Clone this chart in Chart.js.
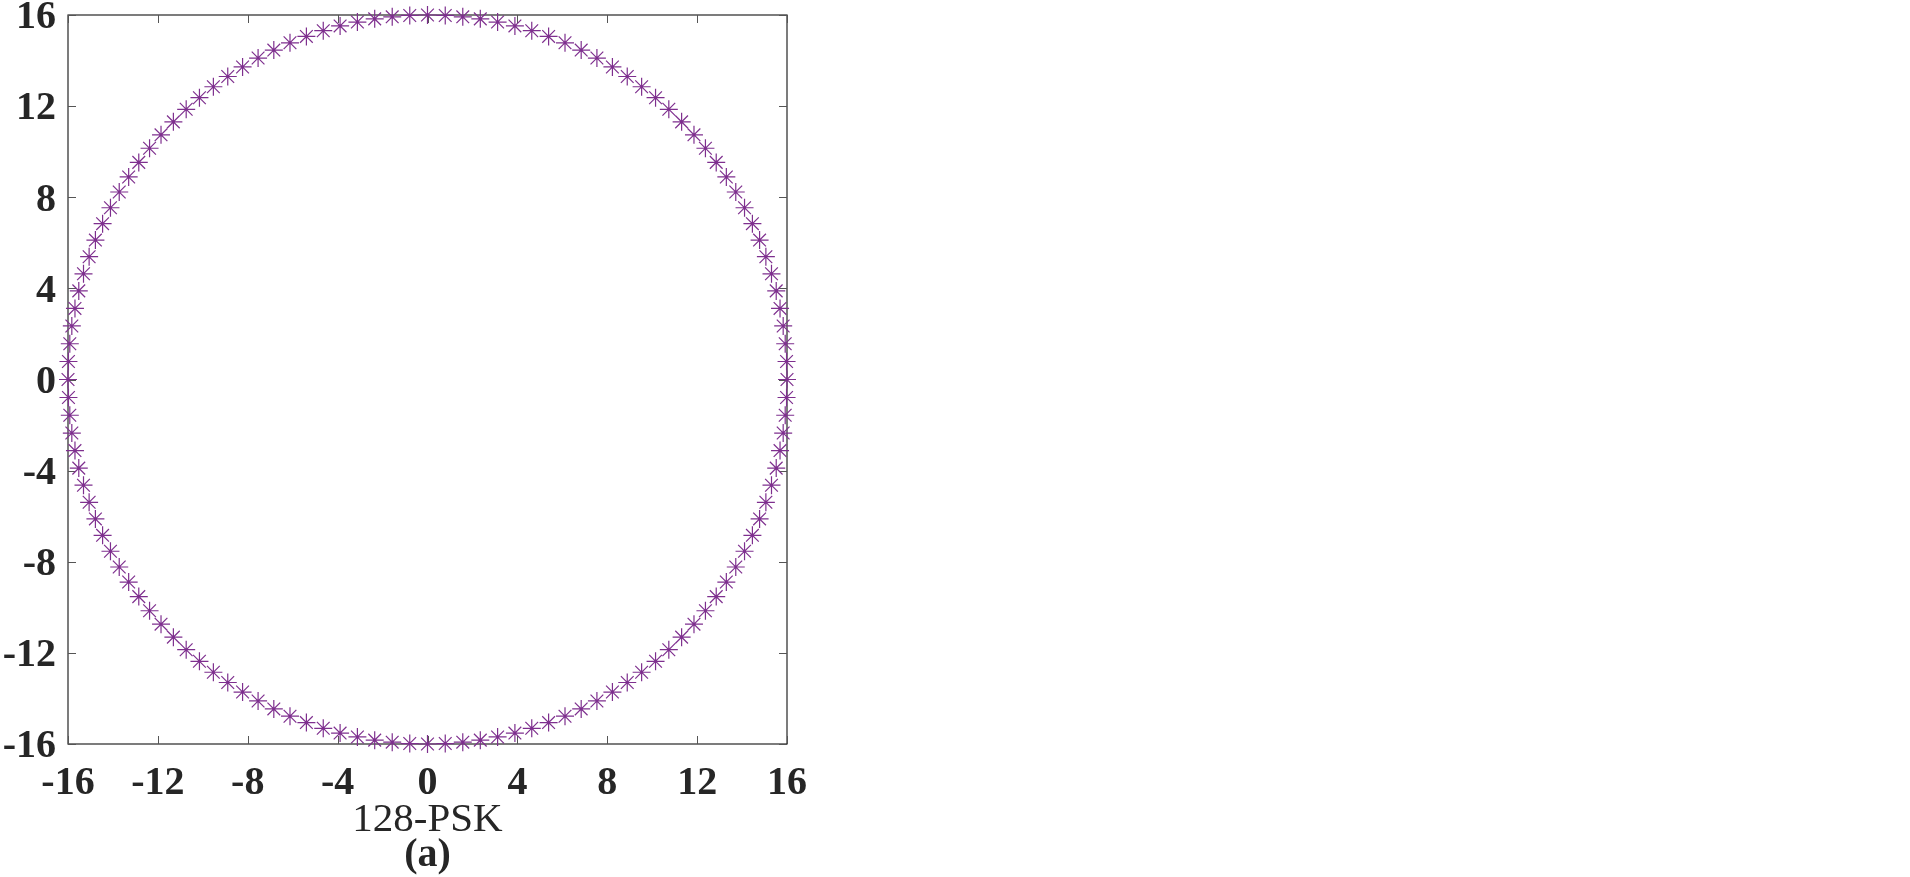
<!DOCTYPE html>
<html>
<head>
<meta charset="utf-8">
<script src="https://cdn.jsdelivr.net/npm/chart.js@4"></script>
<style>
  html, body { margin: 0; padding: 0; background: #fff; }
  #wrap { width: 1910px; height: 877px; }
</style>
</head>
<body>
<div id="wrap"><canvas id="psk" width="1910" height="877"></canvas></div>
<script>
// 128-PSK constellation points (in-phase / quadrature)
const inPhase = [
  16, 15.98, 15.92, 15.83, 15.69, 15.52, 15.31, 15.06, 14.78, 14.46, 14.11, 13.72, 13.30, 12.85, 12.37, 11.86,
  11.31, 10.74, 10.15, 9.53, 8.89, 8.23, 7.54, 6.84, 6.12, 5.39, 4.64, 3.89, 3.12, 2.35, 1.57, 0.79,
  0, -0.79, -1.57, -2.35, -3.12, -3.89, -4.64, -5.39, -6.12, -6.84, -7.54, -8.23, -8.89, -9.53, -10.15, -10.74,
  -11.31, -11.86, -12.37, -12.85, -13.30, -13.72, -14.11, -14.46, -14.78, -15.06, -15.31, -15.52, -15.69, -15.83, -15.92, -15.98,
  -16, -15.98, -15.92, -15.83, -15.69, -15.52, -15.31, -15.06, -14.78, -14.46, -14.11, -13.72, -13.30, -12.85, -12.37, -11.86,
  -11.31, -10.74, -10.15, -9.53, -8.89, -8.23, -7.54, -6.84, -6.12, -5.39, -4.64, -3.89, -3.12, -2.35, -1.57, -0.79,
  0, 0.79, 1.57, 2.35, 3.12, 3.89, 4.64, 5.39, 6.12, 6.84, 7.54, 8.23, 8.89, 9.53, 10.15, 10.74,
  11.31, 11.86, 12.37, 12.85, 13.30, 13.72, 14.11, 14.46, 14.78, 15.06, 15.31, 15.52, 15.69, 15.83, 15.92, 15.98
];
const quadrature = [
  0, 0.79, 1.57, 2.35, 3.12, 3.89, 4.64, 5.39, 6.12, 6.84, 7.54, 8.23, 8.89, 9.53, 10.15, 10.74,
  11.31, 11.86, 12.37, 12.85, 13.30, 13.72, 14.11, 14.46, 14.78, 15.06, 15.31, 15.52, 15.69, 15.83, 15.92, 15.98,
  16, 15.98, 15.92, 15.83, 15.69, 15.52, 15.31, 15.06, 14.78, 14.46, 14.11, 13.72, 13.30, 12.85, 12.37, 11.86,
  11.31, 10.74, 10.15, 9.53, 8.89, 8.23, 7.54, 6.84, 6.12, 5.39, 4.64, 3.89, 3.12, 2.35, 1.57, 0.79,
  0, -0.79, -1.57, -2.35, -3.12, -3.89, -4.64, -5.39, -6.12, -6.84, -7.54, -8.23, -8.89, -9.53, -10.15, -10.74,
  -11.31, -11.86, -12.37, -12.85, -13.30, -13.72, -14.11, -14.46, -14.78, -15.06, -15.31, -15.52, -15.69, -15.83, -15.92, -15.98,
  -16, -15.98, -15.92, -15.83, -15.69, -15.52, -15.31, -15.06, -14.78, -14.46, -14.11, -13.72, -13.30, -12.85, -12.37, -11.86,
  -11.31, -10.74, -10.15, -9.53, -8.89, -8.23, -7.54, -6.84, -6.12, -5.39, -4.64, -3.89, -3.12, -2.35, -1.57, -0.79
];
const axisMin = -16;
const axisMax = 16;
const tickStep = 4;
const xLabel = '128-PSK';
const panelLabel = '(a)';

const serif = '"Liberation Serif", "Times New Roman", serif';
const axisColor = '#262626';

// box around the plot with inward ticks on all four sides (matlab style)
const boxTicks = {
    id: 'boxTicks',
    beforeDatasetsDraw(chart) {
        const { ctx, chartArea: a, scales: { x, y } } = chart;
        const len = 8;
        ctx.save();
        ctx.strokeStyle = axisColor;
        ctx.lineWidth = 1.2;
        ctx.strokeRect(a.left, a.top, a.right - a.left, a.bottom - a.top);
        ctx.lineWidth = 1;
        ctx.strokeStyle = '#555';
        ctx.beginPath();
        x.ticks.forEach(function (t) {
            const px = Math.round(x.getPixelForValue(t.value)) + 0.5;
            ctx.moveTo(px, a.bottom); ctx.lineTo(px, a.bottom - len);
            ctx.moveTo(px, a.top); ctx.lineTo(px, a.top + len);
        });
        y.ticks.forEach(function (t) {
            const py = Math.round(y.getPixelForValue(t.value)) + 0.5;
            ctx.moveTo(a.left, py); ctx.lineTo(a.left + len, py);
            ctx.moveTo(a.right, py); ctx.lineTo(a.right - len, py);
        });
        ctx.stroke();
        ctx.restore();
    }
};

const points = inPhase.map(function (v, i) { return { x: v, y: quadrature[i] }; });

new Chart(document.getElementById('psk'), {
    type: 'scatter',
    data: {
        datasets: [{
            label: xLabel,
            data: points,
            pointStyle: 'star',
            pointRadius: 9,
            pointHoverRadius: 9,
            borderColor: '#7E2F8E',
            backgroundColor: '#7E2F8E',
            pointBorderWidth: 1.2,
            clip: false
        }]
    },
    options: {
        responsive: false,
        animation: false,
        events: [],
        layout: {
            padding: { top: 15, right: 1123, bottom: 1, left: 0 }
        },
        plugins: {
            legend: { display: false },
            tooltip: { enabled: false },
            title: {
                display: true,
                text: panelLabel,
                position: 'bottom',
                fullSize: false,
                color: axisColor,
                font: { family: serif, size: 40, weight: 'bold', lineHeight: 1 },
                padding: { top: 0, bottom: 0 }
            }
        },
        scales: {
            x: {
                type: 'linear',
                min: axisMin,
                max: axisMax,
                grid: { display: false, drawTicks: false },
                border: { display: false },
                ticks: {
                    stepSize: tickStep,
                    padding: 16,
                    maxRotation: 0,
                    color: axisColor,
                    font: { family: serif, size: 40, weight: 'bold' }
                },
                title: {
                    display: true,
                    text: xLabel,
                    color: axisColor,
                    font: { family: serif, size: 41, lineHeight: 0.75 },
                    padding: { top: 0, bottom: 0 }
                },
                afterFit: function (scale) {
                    scale.height = 92;
                    scale.paddingLeft = 0;
                    scale.paddingRight = 0;
                }
            },
            y: {
                type: 'linear',
                min: axisMin,
                max: axisMax,
                grid: { display: false, drawTicks: false },
                border: { display: false },
                ticks: {
                    stepSize: tickStep,
                    padding: 12,
                    labelOffset: 3,
                    color: axisColor,
                    font: { family: serif, size: 40, weight: 'bold' }
                },
                afterFit: function (scale) {
                    scale.width = 68;
                    scale.paddingTop = 0;
                    scale.paddingBottom = 0;
                }
            }
        }
    },
    plugins: [boxTicks]
});
</script>
</body>
</html>
